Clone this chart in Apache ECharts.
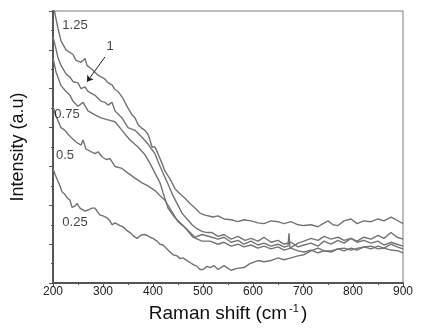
<!DOCTYPE html>
<html>
<head>
<meta charset="utf-8">
<script src="https://cdn.jsdelivr.net/npm/echarts@6/dist/echarts.min.js"></script>
<style>
  html, body { margin: 0; padding: 0; background: #fff; }
  #chart { width: 422px; height: 328px; }
</style>
</head>
<body>
<div id="chart"></div>
<script>
// Raman spectra, intensity in arbitrary units (0..700)
const shift125 = [202,210,216,226,240,246,256,264,268,278,290,304,310,318,324,330,340,350,358,364,370,378,384,390,394,398,404,410,418,424,434,444,454,464,474,484,494,504,520,530,542,556,570,582,596,610,622,636,650,662,676,690,702,716,730,740,750,760,770,782,796,808,822,836,850,862,876,886,900]
const int125 = [705,655,623,600,588,573,568,578,560,550,535,525,515,510,498,493,475,450,433,425,408,398,393,383,368,350,350,333,308,288,268,243,230,218,205,193,180,175,170,173,165,163,158,163,160,155,153,160,158,153,158,150,148,150,145,153,160,150,148,160,165,153,160,158,165,160,170,163,153]

const shift100 = [200,204,210,216,226,234,240,250,256,264,270,284,296,304,310,318,324,338,350,364,378,390,398,404,410,420,430,440,450,458,468,478,488,498,508,518,530,542,556,570,584,596,610,622,636,650,662,676,690,702,716,730,742,756,770,782,796,808,822,836,850,862,876,888,900]
const int100 = [633,613,580,560,538,530,518,515,500,505,493,483,468,465,458,465,443,425,400,393,375,358,343,333,313,283,255,225,200,180,165,150,140,133,130,130,120,125,113,120,110,115,108,118,105,110,100,105,93,98,103,95,108,100,110,103,115,108,118,113,123,115,130,118,113]

const shift075 = [200,206,216,226,234,240,250,260,270,284,296,310,324,338,354,370,384,394,404,414,420,430,444,464,484,498,518,530,542,556,570,582,596,610,622,636,650,662,670,672,674,690,702,716,730,742,756,770,782,796,808,822,836,850,862,876,888,900]
const int075 = [580,543,508,493,483,468,455,465,443,433,425,420,415,393,368,350,330,308,283,258,233,193,168,143,118,125,118,113,118,105,110,100,108,98,103,95,100,93,95,128,90,103,108,115,110,120,113,118,110,115,105,110,103,108,98,105,100,95]

const shift050 = [200,206,216,224,230,236,246,256,260,266,276,284,290,298,306,314,324,338,350,364,378,390,404,414,424,438,450,464,480,498,514,530,542,556,570,582,596,610,622,636,650,662,676,690,702,716,730,742,756,770,782,796,808,822,836,850,862,876,888,900]
const int050 = [455,430,400,393,383,375,363,355,368,345,338,333,338,325,318,320,300,295,283,270,258,250,238,225,213,183,158,143,118,108,108,100,105,95,100,93,98,90,95,88,93,85,90,83,80,85,78,83,80,88,83,90,85,93,88,95,90,100,93,88]

const shift025 = [200,204,208,214,218,224,228,234,238,244,248,254,258,264,270,278,284,288,294,300,308,314,318,324,328,334,340,348,354,362,368,376,382,388,394,400,408,414,420,428,434,440,448,454,460,468,474,480,488,494,500,508,514,522,530,542,550,556,568,582,594,610,622,636,650,662,676,690,702,716,730,742,756,770,782,796,810,822,836,850,862,876,890,900]
const int025 = [295,280,268,250,235,228,220,213,195,198,205,193,193,185,188,193,193,185,175,173,168,160,150,155,155,148,145,135,130,120,115,123,125,123,118,115,108,100,98,88,80,73,70,63,65,58,53,48,43,35,35,43,40,45,35,45,38,33,38,40,50,58,55,58,65,60,65,70,73,83,90,83,83,88,90,85,90,93,95,88,90,85,83,78]

const xTicks = [200, 300, 400, 500, 600, 700, 800, 900]

const noteText = ['1.25', '1', '0.75', '0.5', '0.25']
const noteX = [244, 314, 228, 224, 244]
const noteY = [662, 610, 435, 328, 155]

const arrowFrom = [304, 582]
const arrowTo = [268, 518]

const pairs = (xs, ys) => xs.map((x, i) => [x, ys[i]])

const chart = echarts.init(document.getElementById('chart'), null, { renderer: 'canvas' })

const lineColor = '#737373'
const curve = (name, xs, ys, extra) => Object.assign({
  name: name,
  type: 'line',
  data: pairs(xs, ys),
  showSymbol: false,
  symbol: 'none',
  smooth: false,
  lineStyle: { color: lineColor, width: 1.4 },
  z: 3,
}, extra || {})

chart.setOption({
  animation: false,
  backgroundColor: '#fff',
  grid: {
    left: 53,
    top: 11,
    right: 19,
    bottom: 38,
    show: true,
    borderColor: '#7a7a7a',
    borderWidth: 1,
  },
  xAxis: {
    type: 'value',
    min: 200,
    max: 900,
    interval: 100,
    name: '{a|Raman shift (cm}{s|-1}{a|)}',
    nameLocation: 'middle',
    nameGap: 13,
    nameTextStyle: {
      rich: {
        a: { fontFamily: 'Liberation Sans', fontSize: 19, color: '#111' },
        s: { fontFamily: 'Liberation Sans', fontSize: 11, color: '#111', padding: [0, 2, 10, 2] },
      },
    },
    axisLine: { lineStyle: { color: '#555', width: 2 } },
    axisTick: { show: true, length: 4, inside: false, lineStyle: { color: '#555' } },
    minorTick: { show: true, splitNumber: 2, length: 2, lineStyle: { color: '#555' } },
    splitLine: { show: false },
    axisLabel: {
      fontFamily: 'Liberation Sans',
      fontSize: 12,
      color: '#222',
      margin: 3,
      formatter: (v) => (xTicks.indexOf(v) >= 0 ? String(v) : ''),
    },
  },
  yAxis: {
    type: 'value',
    min: 0,
    max: 700,
    interval: 100,
    name: 'Intensity (a.u)',
    nameLocation: 'middle',
    nameGap: 26,
    nameTextStyle: { fontFamily: 'Liberation Sans', fontSize: 18, color: '#111' },
    axisLine: { show: true, lineStyle: { color: '#555', width: 2 } },
    axisTick: { show: true, length: 4, lineStyle: { color: '#555' } },
    minorTick: { show: true, splitNumber: 2, length: 2, lineStyle: { color: '#555' } },
    splitLine: { show: false },
    axisLabel: { show: false },
  },
  series: [
    curve('1.25', shift125, int125),
    curve('1', shift100, int100, {
      markLine: {
        silent: true,
        symbol: ['none', 'arrow'],
        symbolSize: 6,
        label: { show: false },
        lineStyle: { color: '#222', width: 1, type: 'solid' },
        data: [[{ coord: arrowFrom }, { coord: arrowTo }]],
      },
    }),
    curve('0.75', shift075, int075),
    curve('0.5', shift050, int050),
    curve('0.25', shift025, int025),
    {
      name: 'notes',
      type: 'scatter',
      symbolSize: 0,
      silent: true,
      z: 5,
      data: noteText.map((t, i) => ({ value: [noteX[i], noteY[i]], name: t })),
      label: {
        show: true,
        position: 'inside',
        formatter: (p) => p.name,
        fontFamily: 'Liberation Sans',
        fontSize: 13,
        color: '#111',
      },
    },
  ],
})
</script>
</body>
</html>
